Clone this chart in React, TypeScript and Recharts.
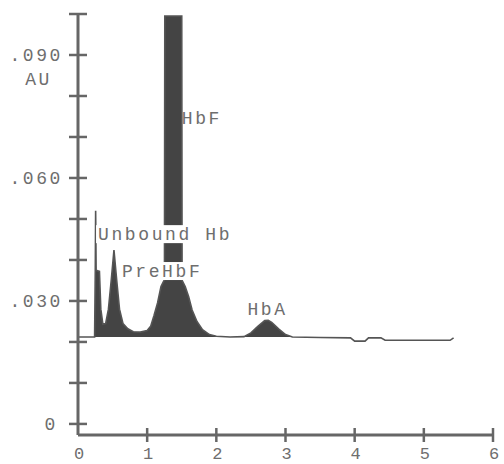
import { Area, ComposedChart, Line, ReferenceDot, XAxis, YAxis } from "recharts";

// retention time (min) and absorbance (AU)
const times = [
  0, 0.24, 0.25, 0.255, 0.262, 0.31, 0.33, 0.36, 0.4, 0.44, 0.48, 0.52, 0.56, 0.6, 0.65, 0.72, 0.8, 0.9,
  1.0, 1.05, 1.1, 1.15, 1.2, 1.25, 1.255, 1.5, 1.505, 1.55, 1.6, 1.65, 1.72, 1.8, 1.9, 2.0, 2.2, 2.4, 2.5,
  2.6, 2.7, 2.75, 2.8, 2.9, 3.0, 3.1, 3.5, 3.94, 4.0, 4.15, 4.2, 4.38, 4.44, 5.38, 5.43,
];
const absorbance = [
  0.0212, 0.0212, 0.0375, 0.052, 0.0375, 0.0372, 0.028, 0.0243, 0.0245, 0.028, 0.035, 0.0424, 0.035, 0.028,
  0.0245, 0.0232, 0.0225, 0.0224, 0.0228, 0.0238, 0.0265, 0.0295, 0.0335, 0.0352, 0.0995, 0.0995, 0.035,
  0.0335, 0.031, 0.0278, 0.025, 0.023, 0.0218, 0.0214, 0.0212, 0.0213, 0.0222, 0.0238, 0.0252, 0.0253,
  0.0248, 0.0232, 0.0218, 0.0212, 0.0211, 0.021, 0.0202, 0.0202, 0.021, 0.021, 0.0204, 0.0204, 0.021,
];
const baseline = 0.0212;

const xTicks = [0, 1, 2, 3, 4, 5, 6];
const yTicks = [0, 0.01, 0.02, 0.03, 0.04, 0.05, 0.06, 0.07, 0.08, 0.09, 0.1];
const yLabels: Record<string, string> = { "0": "0", "0.03": ".030", "0.06": ".060", "0.09": ".090" };

const peaks = [
  { name: "Unbound Hb", t: 0.29, y: 0.0463, box: true },
  { name: "PreHbF", t: 0.635, y: 0.0373, box: true },
  { name: "HbF", t: 1.5, y: 0.0746, box: false },
  { name: "HbA", t: 2.45, y: 0.028, box: false },
];

const data = times.map((t, i) => ({ t, v: absorbance[i] }));

const font = "'Liberation Mono', 'DejaVu Sans Mono', monospace";
const textColor = "#6e6e6e";
const axisColor = "#666";

function YTick(props: any) {
  const { x, y, payload } = props;
  const label = yLabels[String(payload.value)];
  return (
    <g>
      <line x1={x - 9} x2={x + 9} y1={y} y2={y} stroke={axisColor} strokeWidth={2.5} />
      {label && (
        <text x={label === "0" ? x - 20 : x - 15} y={y + 6} textAnchor="end" fontFamily={font} fontSize={18} letterSpacing={2.6} fill={textColor}>
          {label}
        </text>
      )}
      {label === ".090" && (
        <text x={x - 26} y={y + 30} textAnchor="end" fontFamily={font} fontSize={18} letterSpacing={2.6} fill={textColor}>
          AU
        </text>
      )}
    </g>
  );
}

function XTick(props: any) {
  const { x, y, payload } = props;
  return (
    <g>
      {payload.value !== 0 && <line x1={x} x2={x} y1={y - 7} y2={y + 7} stroke={axisColor} strokeWidth={2.5} />}
      <text x={x + 1} y={y + 24} textAnchor="middle" fontFamily={font} fontSize={17} fill={textColor}>
        {payload.value}
      </text>
    </g>
  );
}

function PeakLabel(props: any) {
  const { cx, cy, name, box } = props;
  const w = name.length * 13.4;
  return (
    <g>
      {box && <rect x={cx - 2} y={cy - 9} width={w} height={18} fill="#fff" />}
      <text x={cx} y={cy + 6} fontFamily={font} fontSize={18} letterSpacing={2.6} fill={textColor}>
        {name}
      </text>
    </g>
  );
}

export default function App() {
  return (
    <div style={{ position: "fixed", left: 0, top: 0, background: "#fff" }}>
      <ComposedChart width={504} height={464} data={data} margin={{ top: 14, right: 11, left: 0, bottom: 0 }}>
        <XAxis
          dataKey="t"
          type="number"
          domain={[0, 6]}
          ticks={xTicks}
          height={29}
          tickSize={0}
          tickMargin={0}
          tickLine={false}
          tick={<XTick />}
          axisLine={{ stroke: axisColor, strokeWidth: 3 }}
          interval={0}
        />
        <YAxis
          type="number"
          domain={[-0.0027, 0.1]}
          ticks={yTicks}
          width={78}
          tickSize={0}
          tickMargin={0}
          tickLine={false}
          tick={<YTick />}
          axisLine={{ stroke: axisColor, strokeWidth: 3 }}
          interval={0}
          allowDataOverflow
        />
        <Area
          dataKey={(d: any) => Math.max(d.v, baseline)}
          type="linear"
          baseValue={baseline}
          fill="#444"
          fillOpacity={1}
          stroke="none"
          isAnimationActive={false}
        />
        <Line dataKey="v" type="linear" stroke="#555" strokeWidth={1.6} dot={false} isAnimationActive={false} />
        {peaks.map((p) => (
          <ReferenceDot
            key={p.name}
            x={p.t}
            y={p.y}
            r={0}
            ifOverflow="visible"
            shape={(s: any) => <PeakLabel {...s} name={p.name} box={p.box} />}
          />
        ))}
      </ComposedChart>
    </div>
  );
}
